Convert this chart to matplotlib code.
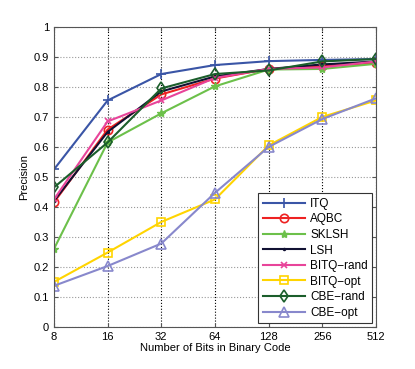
import numpy as np
import matplotlib
matplotlib.use("Agg")
import matplotlib.pyplot as plt

matplotlib.rcParams['font.family'] = ['Liberation Sans', 'DejaVu Sans']

bits = [8, 16, 32, 64, 128, 256, 512]
itq = [0.525, 0.755, 0.843, 0.873, 0.886, 0.890, 0.893]
aqbc = [0.415, 0.658, 0.775, 0.828, 0.860, 0.870, 0.880]
sklsh = [0.260, 0.615, 0.712, 0.802, 0.858, 0.860, 0.877]
lsh = [0.420, 0.650, 0.785, 0.835, 0.860, 0.875, 0.885]
bitq_rand = [0.425, 0.685, 0.755, 0.830, 0.860, 0.865, 0.885]
bitq_opt = [0.150, 0.248, 0.350, 0.425, 0.605, 0.700, 0.755]
cbe_rand = [0.465, 0.615, 0.795, 0.843, 0.855, 0.885, 0.893]
cbe_opt = [0.137, 0.203, 0.278, 0.447, 0.600, 0.693, 0.762]

series = [
    ("ITQ", itq, "#3a55a6", "+", dict(markersize=7, markeredgewidth=1.2)),
    ("AQBC", aqbc, "#ee2222", "o", dict(markersize=6, markerfacecolor="none", markeredgewidth=1.2)),
    ("SKLSH", sklsh, "#6cc04a", "*", dict(markersize=6)),
    ("LSH", lsh, "#111133", ".", dict(markersize=3)),
    ("BITQ\u2212rand", bitq_rand, "#e8449a", "x", dict(markersize=5, markeredgewidth=1.2)),
    ("BITQ\u2212opt", bitq_opt, "#ffd400", "s", dict(markersize=6, markerfacecolor="none", markeredgewidth=1.2)),
    ("CBE\u2212rand", cbe_rand, "#1b5e2b", "d", dict(markersize=6, markerfacecolor="none", markeredgewidth=1.2)),
    ("CBE\u2212opt", cbe_opt, "#8888cc", "^", dict(markersize=7, markerfacecolor="none", markeredgewidth=1.2)),
]

fig = plt.figure(figsize=(4.15, 3.69), dpi=100)
ax = fig.add_axes([0.130, 0.114, 0.776, 0.813])
x = np.log2(bits)
for name, vals, col, mk, kw in series:
    ax.plot(x, vals, color=col, marker=mk, linewidth=1.5, label=name, **kw)

ax.set_xlim(x[0], x[-1])
ax.set_ylim(0, 1)
ax.set_xticks(x)
ax.set_xticklabels([str(b) for b in bits])
ax.set_yticks(np.arange(0, 1.01, 0.1))
ax.set_yticklabels(["0", "0.1", "0.2", "0.3", "0.4", "0.5", "0.6", "0.7", "0.8", "0.9", "1"])
ax.tick_params(direction="in", top=True, right=True, labelsize=8, length=3, color="#555555")
ax.xaxis.grid(True, linestyle=":", color="black", linewidth=0.8)
ax.yaxis.grid(True, linestyle=":", color="#999999", linewidth=0.8)
for s in ax.spines.values():
    s.set_color("#555555")
    s.set_linewidth(0.8)
ax.set_xlabel("Number of Bits in Binary Code", fontsize=8, labelpad=1)
ax.set_ylabel("Precision", fontsize=8, labelpad=3)

leg = ax.legend(loc="lower right", fontsize=8.5, fancybox=False, framealpha=1,
                edgecolor="#333333", handlelength=3.6, borderaxespad=0.3,
                labelspacing=0.3, handletextpad=0.4, borderpad=0.4)
leg.get_frame().set_linewidth(0.8)

plt.savefig("out.png", dpi=100)
